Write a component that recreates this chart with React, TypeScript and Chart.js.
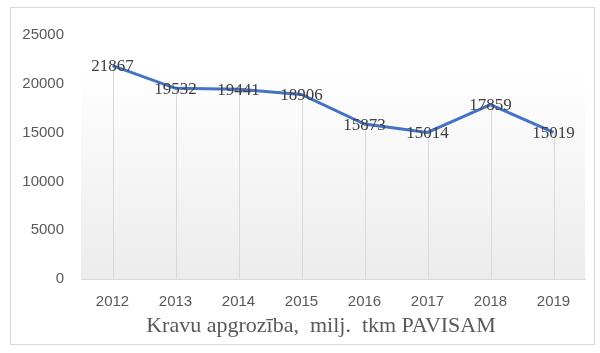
import React, { useEffect, useRef } from "react";
import { Chart, registerables } from "chart.js";

Chart.register(...registerables);

const years = ["2012", "2013", "2014", "2015", "2016", "2017", "2018", "2019"];
const values = [21867, 19532, 19441, 18906, 15873, 15014, 17859, 15019];
const chartTitle = "Kravu apgrozība,  milj.  tkm PAVISAM";
const yMax = 25000;
const yStep = 5000;

const bgPlugin = {
  id: "bgPlugin",
  beforeDraw(chart: any) {
    const { ctx, chartArea } = chart;
    const g = ctx.createLinearGradient(0, chartArea.top, 0, chartArea.bottom);
    g.addColorStop(0, "#ffffff");
    g.addColorStop(0.12, "#ffffff");
    g.addColorStop(1, "#ececec");
    ctx.save();
    ctx.fillStyle = g;
    ctx.fillRect(chartArea.left, chartArea.top, chartArea.right - chartArea.left, chartArea.bottom - chartArea.top);
    ctx.restore();
  },
  beforeDatasetsDraw(chart: any) {
    const { ctx, chartArea } = chart;
    const meta = chart.getDatasetMeta(0);
    ctx.save();
    ctx.strokeStyle = "#d9d9d9";
    ctx.lineWidth = 1;
    meta.data.forEach((p: any) => {
      const x = Math.round(p.x) + 0.5;
      ctx.beginPath();
      ctx.moveTo(x, p.y);
      ctx.lineTo(x, chartArea.bottom);
      ctx.stroke();
    });
    ctx.restore();
  },
  afterDatasetsDraw(chart: any) {
    const { ctx, chartArea } = chart;
    const meta = chart.getDatasetMeta(0);
    ctx.save();
    ctx.font = "17px 'Liberation Serif'";
    ctx.fillStyle = "#404040";
    ctx.textAlign = "center";
    ctx.textBaseline = "middle";
    meta.data.forEach((p: any, i: number) => {
      ctx.fillText(String(values[i]), p.x, p.y + 1);
    });
    ctx.font = "22px 'Liberation Serif'";
    ctx.fillStyle = "#595959";
    ctx.fillText(chartTitle, (chartArea.left + chartArea.right) / 2 - 12, chartArea.bottom + 47);
    ctx.restore();
  },
};

export default function App() {
  const ref = useRef<HTMLCanvasElement | null>(null);
  useEffect(() => {
    if (!ref.current) return;
    const chart = new Chart(ref.current, {
      type: "line",
      data: {
        labels: years,
        datasets: [
          {
            data: values,
            borderColor: "#4472C4",
            borderWidth: 3,
            pointRadius: 0,
            tension: 0,
            fill: false,
          },
        ],
      },
      options: {
        animation: false,
        responsive: false,
        maintainAspectRatio: false,
        layout: { padding: { left: 0, right: 9, top: 27, bottom: 0 } },
        plugins: { legend: { display: false }, tooltip: { enabled: false }, title: { display: false } },
        scales: {
          x: {
            offset: true,
            grid: { display: false, drawTicks: false },
            border: { display: true, color: "#d9d9d9", width: 1 },
            ticks: { color: "#595959", font: { family: "'Liberation Sans'", size: 15 }, padding: 14 },
            afterFit: (s: any) => {
              s.height = 65;
            },
          },
          y: {
            min: 0,
            max: yMax,
            grid: { display: false, drawTicks: false },
            border: { display: false },
            ticks: {
              stepSize: yStep,
              color: "#595959",
              font: { family: "'Liberation Sans'", size: 15 },
              padding: 17,
              callback: (v: any) => String(v),
            },
            afterFit: (s: any) => {
              s.width = 70;
            },
          },
        },
      },
      plugins: [bgPlugin],
    });
    return () => chart.destroy();
  }, []);
  return (
    <div
      style={{
        position: "absolute",
        left: 10,
        top: 7,
        width: 585,
        height: 338,
        border: "1px solid #d9d9d9",
        boxSizing: "border-box",
        background: "#fff",
      }}
    >
      <canvas ref={ref} width={583} height={336} style={{ display: "block" }} />
    </div>
  );
}
